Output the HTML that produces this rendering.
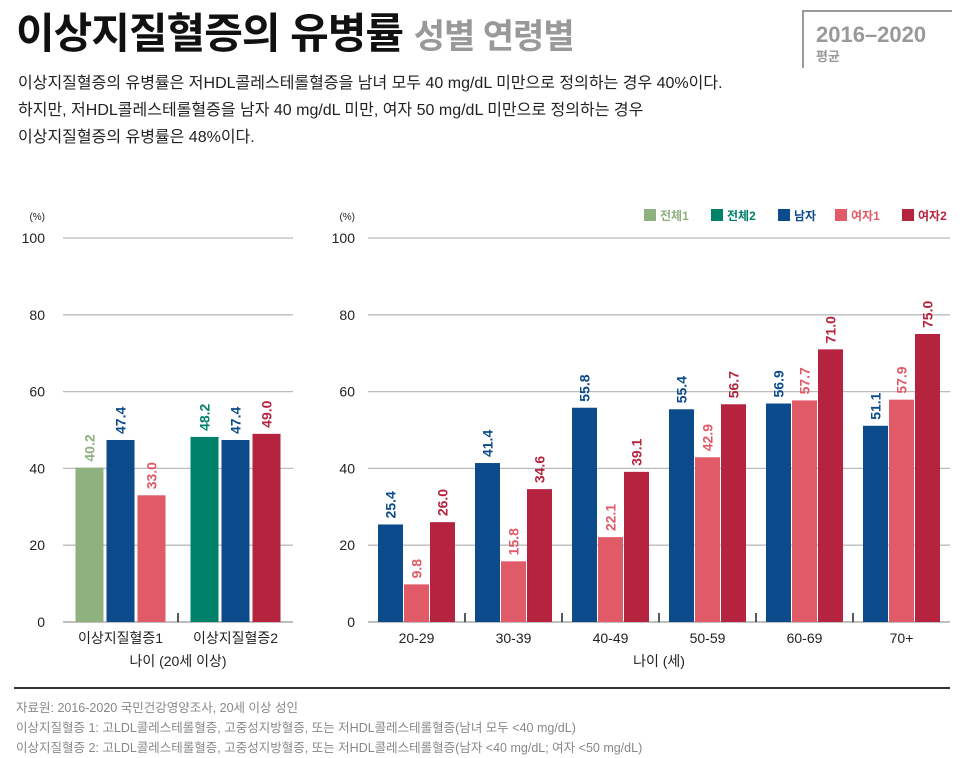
<!DOCTYPE html>
<html><head><meta charset="utf-8">
<style>
body{margin:0;width:960px;height:758px;background:#fff;font-family:"Liberation Sans","Noto Sans CJK KR",sans-serif;position:relative;overflow:hidden}
.t{position:absolute;white-space:nowrap}
</style></head><body>
<div class="t" style="left:16px;top:0px;font-size:42px;font-weight:bold;color:#111;letter-spacing:-1px">이상지질혈증의 유병률 <span style="font-size:34px;color:#999">성별 연령별</span></div>
<div style="position:absolute;left:802px;top:10px;width:148px;height:56px;border-left:2px solid #999;border-top:2px solid #999"></div>
<div class="t" style="left:816px;top:22px;font-size:22px;font-weight:bold;color:#999">2016–2020</div>
<div class="t" style="left:816px;top:46px;font-size:13px;font-weight:bold;color:#999">평균</div>
<div class="t" style="left:18px;top:70px;font-size:16px;line-height:27px;color:#222">이상지질혈증의 유병률은 저HDL콜레스테롤혈증을 남녀 모두 40 mg/dL 미만으로 정의하는 경우 40%이다.<br>하지만, 저HDL콜레스테롤혈증을 남자 40 mg/dL 미만, 여자 50 mg/dL 미만으로 정의하는 경우<br>이상지질혈증의 유병률은 48%이다.</div>
<svg id="c" width="960" height="758" style="position:absolute;left:0;top:0"></svg>
<div style="position:absolute;left:14px;top:687px;width:936px;height:2px;background:#333"></div>
<div class="t" style="left:16px;top:698px;font-size:12.5px;line-height:20px;color:#888">자료원: 2016-2020 국민건강영양조사, 20세 이상 성인<br>이상지질혈증 1: 고LDL콜레스테롤혈증, 고중성지방혈증, 또는 저HDL콜레스테롤혈증(남녀 모두 &lt;40 mg/dL)<br>이상지질혈증 2: 고LDL콜레스테롤혈증, 고중성지방혈증, 또는 저HDL콜레스테롤혈증(남자 &lt;40 mg/dL; 여자 &lt;50 mg/dL)</div>
<script>
const yTicks=[0,20,40,60,80,100];
const leftCats=["이상지질혈증1","이상지질혈증2"];
const leftTotal1=[40.2,null];
const leftTotal2=[null,48.2];
const leftMale=[47.4,47.4];
const leftFemale1=[33.0,null];
const leftFemale2=[null,49.0];
const rightCats=["20-29","30-39","40-49","50-59","60-69","70+"];
const rightMale=[25.4,41.4,55.8,55.4,56.9,51.1];
const rightFemale1=[9.8,15.8,22.1,42.9,57.7,57.9];
const rightFemale2=[26.0,34.6,39.1,56.7,71.0,75.0];
const legendLabels=["전체1","전체2","남자","여자1","여자2"];
const colors=["#8fb07f","#00826a","#0b4a8b","#e05a68","#b5233e"];
const svg=document.getElementById('c');const NS="http://www.w3.org/2000/svg";
function y(v){return 622-v*3.84;}
function mk(tag,attrs,txt){const e=document.createElementNS(NS,tag);for(const k in attrs)e.setAttribute(k,attrs[k]);if(txt!=null)e.textContent=txt;svg.appendChild(e);return e;}
function axis(x0,x1,lx,name){
  yTicks.forEach(t=>{
    const l=mk('line',{x1:x0,x2:x1,y1:y(t),y2:y(t),stroke:t===0?'#999':'#bbb','stroke-width':1.3});
    
    
    const tx=mk('text',{x:lx,y:y(t)+5,'text-anchor':'end','font-size':14,fill:'#222'},String(t));
    
    
  });
  const u=mk('text',{x:lx,y:220,'text-anchor':'end','font-size':10,fill:'#222'},'(%)');
  
  
}
function bar(x,w,v,c,name){
  if(v==null)return;
  const r=mk('rect',{x:x,y:y(v),width:w,height:622-y(v),fill:c});
  
  
  const cx=x+w/2+5,cy=y(v)-6;
  const t=mk('text',{x:cx,y:cy,transform:`rotate(-90 ${cx} ${cy})`,'font-size':14,'font-weight':'bold',fill:c},v.toFixed(1));
  
  
}
axis(63,293,45,'left');
const lg=115;
leftCats.forEach((c,i)=>{
  const cx=63+lg*(i+0.5);const w=28,g=3;
  const s=[[colors[0],leftTotal1[i]],[colors[1],leftTotal2[i]],[colors[2],leftMale[i]],[colors[3],leftFemale1[i]],[colors[4],leftFemale2[i]]].filter(a=>a[1]!=null);
  const tot=s.length*w+(s.length-1)*g;let x=cx-tot/2;
  s.forEach(a=>{bar(x,w,a[1],a[0],'left-bar');x+=w+g;});
  const t=mk('text',{x:cx,y:643,'text-anchor':'middle','font-size':14,fill:'#222'},c);
  
  
  if(i>0){const k=mk('line',{x1:63+lg*i,x2:63+lg*i,y1:613,y2:622,stroke:'#222','stroke-width':1.5});}
});
let at=mk('text',{x:178,y:666,'text-anchor':'middle','font-size':14,fill:'#222'},'나이 (20세 이상)');

axis(368,950,355,'right');
const rg=97;
rightCats.forEach((c,i)=>{
  const cx=368+rg*(i+0.5);const w=25,g=1;let x=cx-(3*w+2*g)/2;
  bar(x,w,rightMale[i],colors[2],'right-bar-male');x+=w+g;
  bar(x,w,rightFemale1[i],colors[3],'right-bar-female1');x+=w+g;
  bar(x,w,rightFemale2[i],colors[4],'right-bar-female2');
  const t=mk('text',{x:cx,y:643,'text-anchor':'middle','font-size':14,fill:'#222'},c);
  
  
  if(i>0){const k=mk('line',{x1:368+rg*i,x2:368+rg*i,y1:613,y2:622,stroke:'#222','stroke-width':1.5});}
});
at=mk('text',{x:659,y:666,'text-anchor':'middle','font-size':14,fill:'#222'},'나이 (세)');

const lx=[644,711,778,835,902];
legendLabels.forEach((l,i)=>{
  const r=mk('rect',{x:lx[i],y:209,width:12,height:12,fill:colors[i]});
  
  
  const t=mk('text',{x:lx[i]+16,y:220,'font-size':12,'font-weight':'bold',fill:colors[i]},l);
  
  
});
</script>
</body></html>
